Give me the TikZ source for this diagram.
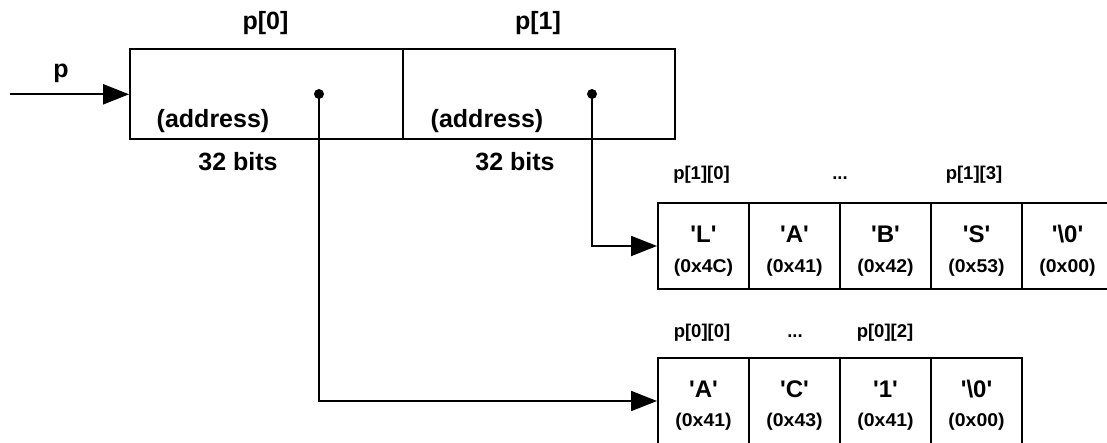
\documentclass[tikz,border=0pt]{standalone}
\usepackage{fontspec}
\setmainfont{Liberation Sans}
\newfontfamily\hexfont[FakeStretch=1.05]{Liberation Sans}
\usetikzlibrary{arrows.meta}
\tikzset{
  boxline/.style={draw, line width=2pt, inner sep=0pt},
  ptrbox/.style={boxline, minimum width=272.5pt, minimum height=90pt},
  cellbox/.style={boxline, minimum width=91pt, minimum height=86pt},
  lab/.style={anchor=base, inner sep=0pt, font=\bfseries\fontsize{25}{29}\selectfont},
  idx/.style={anchor=base, inner sep=0pt, font=\bfseries\fontsize{18.5}{22}\selectfont},
  chr/.style={anchor=base, inner sep=0pt, font=\bfseries\fontsize{24}{28}\selectfont},
  hex/.style={anchor=base, inner sep=0pt, font=\hexfont\bfseries\fontsize{18.5}{22}\selectfont},
  ptrdot/.style={circle, fill=black, inner sep=0pt, minimum size=10pt},
  arr/.style={line width=2pt, -{Triangle[length=26pt,width=20pt]}},
}
\newcommand{\q}[1]{\textquotesingle#1\textquotesingle}
\begin{document}
\begin{tikzpicture}[x=1pt,y=-1pt]
\useasboundingbox (0,0) rectangle (1107,443);
% pointer array
\node[ptrbox] (p0) at (266.35,94.3) {};
\node[ptrbox] (p1) at (538.85,94.3) {};
\node[lab] (lp0) at (265.5,30) {p[0]};
\node[lab] (lp1) at (538,30) {p[1]};
\node[lab] (lp) at (61,78) {p};
\node[lab] (a0) at (213,128) {(address)};
\node[lab] (a1) at (487,128) {(address)};
\node[lab] (b0) at (238,171) {32 bits};
\node[lab] (b1) at (515,171) {32 bits};
\node[ptrdot] (d0) at (319,94) {};
\node[ptrdot] (d1) at (592,94) {};
\coordinate (pin) at (10,94.3);
\draw[arr] (pin) -- (p0.west);
% string p[1]
\foreach \i/\c/\h in {0/L/4C,1/A/41,2/B/42,3/S/53,4/\textbackslash 0/00}{
  \node[cellbox] (t\i) at (703.5+91*\i,246) {};
  \node[chr] (tc\i) at (703.5+91*\i,243) {\q{\c}};
  \node[hex] (th\i) at (703.5+91*\i,273) {(0x\h)};
}
\node[idx] (l10) at (701.5,180) {p[1][0]};
\node[idx] (l1d) at (840,180) {...};
\node[idx] (l13) at (974,180) {p[1][3]};
% string p[0]
\foreach \i/\c/\h in {0/A/41,1/C/43,2/1/41,3/\textbackslash 0/00}{
  \node[cellbox] (u\i) at (703.5+91*\i,401) {};
  \node[chr] (uc\i) at (703.5+91*\i,397) {\q{\c}};
  \node[hex] (uh\i) at (703.5+91*\i,426) {(0x\h)};
}
\node[idx] (l00) at (702,337) {p[0][0]};
\node[idx] (l0d) at (795,337) {...};
\node[idx] (l02) at (885,337) {p[0][2]};
% connectors
\draw[arr] (d1.center) |- (t0.west);
\draw[arr] (d0.center) |- (u0.west);
\end{tikzpicture}
\end{document}
